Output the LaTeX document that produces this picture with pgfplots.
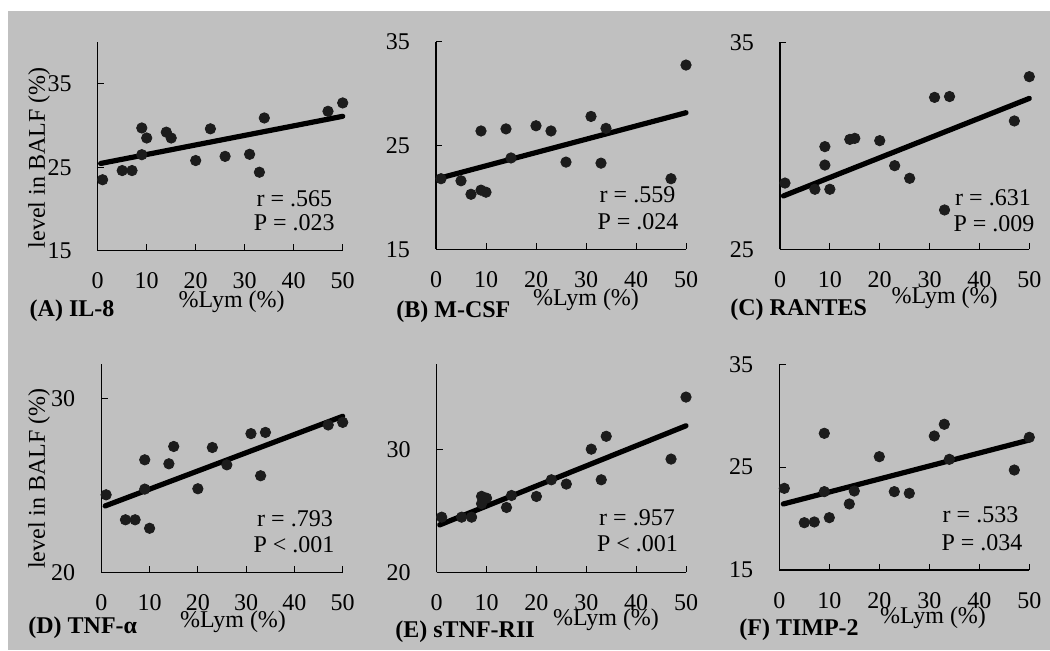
\documentclass[border=0pt]{standalone}
\usepackage{fontspec}
\setmainfont{Liberation Serif}
\usepackage{pgfplots}
\pgfplotsset{compat=1.18}
\definecolor{bg}{RGB}{192,192,192}
\definecolor{dot}{RGB}{28,28,28}
\pgfplotsset{
  panel/.style={
    scale only axis,
    axis x line=bottom, axis y line=left,
    axis line style={-, line width=0.6pt, black},
    xmin=0, xmax=50, xtick={0,10,...,50},
    tick align=inside,
    major tick length=3.2pt,
    tick style={black, line width=0.5pt},
    /pgf/number format/assume math mode=true,
    tick label style={font=\fontsize{12}{14}\selectfont, black},
    xticklabel style={yshift=-7.5pt},
    yticklabel style={xshift=-9.5pt},
    anchor=south west,
    clip=false,
  },
  dots/.style={only marks, mark=*, mark size=2.6pt, mark options={fill=dot, draw=dot}},
  fit/.style={no marks, line width=2.6pt, black, line cap=round},
}
\begin{document}
\begin{tikzpicture}[font=\fontsize{12}{14}\selectfont, x=1pt, y=1pt]
\path[use as bounding box] (0,0) rectangle (525,325);
\fill[white] (0,0) rectangle (525,325);
\fill[bg] (4,0) rectangle (525,319.5);

% (A) IL-8
\begin{axis}[panel, at={(48.85pt,199.65pt)}, width=122.5pt, height=104.35pt,
  ymin=15, ymax=40, ytick={15,25,35}]
\addplot[dots] coordinates {(1,23.5)(5,24.6)(7,24.6)(9,29.7)(9,26.5)(10,28.5)(14,29.2)(15,28.5)(20,25.8)(23,29.6)(26,26.3)(31,26.55)(33,24.4)(34,30.9)(47,31.7)(50,32.7)};
\addplot[fit] coordinates {(0.6,25.45)(50,31.1)};
\end{axis}

% (B) M-CSF
\begin{axis}[panel, at={(218pt,200.35pt)}, width=125pt, height=103.8pt,
  ymin=15, ymax=35, ytick={15,25,35}]
\addplot[dots] coordinates {(1,21.8)(5,21.6)(7,20.3)(9,20.7)(10,20.5)(9,26.4)(14,26.6)(15,23.8)(20,26.9)(23,26.4)(26,23.4)(31,27.8)(33,23.3)(34,26.65)(47,21.8)(50,32.75)};
\addplot[fit] coordinates {(0.6,21.84)(50,28.16)};
\end{axis}

% (C) RANTES
\begin{axis}[panel, at={(390pt,200.35pt)}, width=124.65pt, height=103.5pt,
  ymin=25, ymax=35, ytick={25,35}]
\addplot[dots] coordinates {(1,28.2)(7,27.9)(9,29.96)(9,29.07)(10,27.9)(14,30.31)(15,30.36)(20,30.25)(23,29.04)(26,28.43)(31,32.34)(34,32.38)(33,26.9)(47,31.2)(50,33.34)};
\addplot[fit] coordinates {(0.7,27.58)(50,32.29)};
\end{axis}

% (D) TNF-alpha
\begin{axis}[panel, at={(50.65pt,38.85pt)}, width=120.7pt, height=104pt,
  ymin=20, ymax=32, ytick={20,30}]
\addplot[dots] coordinates {(1,24.47)(5,23.03)(7,23.03)(9,26.49)(9,24.8)(10,22.54)(14,26.26)(15,27.26)(20,24.82)(23,27.2)(26,26.2)(31,28.0)(33,25.57)(34,28.07)(47,28.5)(50,28.65)};
\addplot[fit] coordinates {(0.8,23.83)(50,29.0)};
\end{axis}

% (E) sTNF-RII
\begin{axis}[panel, at={(218.35pt,38.85pt)}, width=124.65pt, height=104.15pt,
  ymin=20, ymax=37, ytick={20,30}]
\addplot[dots] coordinates {(1,24.5)(5,24.5)(7,24.5)(9,26.2)(9,25.6)(10,26.05)(14,25.29)(15,26.27)(20,26.19)(23,27.55)(26,27.2)(31,30.05)(33,27.55)(34,31.1)(47,29.24)(50,34.3)};
\addplot[fit] coordinates {(0.6,23.87)(50,31.96)};
\end{axis}

% (F) TIMP-2
\begin{axis}[panel, at={(389.65pt,40pt)}, width=125pt, height=102.85pt,
  ymin=15, ymax=35, ytick={15,25,35}]
\addplot[dots] coordinates {(1,22.94)(5,19.6)(7,19.67)(9,28.29)(9,22.62)(10,20.09)(14,21.42)(15,22.68)(20,26.02)(23,22.62)(26,22.46)(31,28.03)(33,29.17)(34,25.76)(47,24.72)(50,27.9)};
\addplot[fit] coordinates {(0.8,21.42)(50,27.64)};
\end{axis}

% y labels
\node[rotate=90] at (19.5,246.15) {level in BALF (\%)};
\node[rotate=90] at (19.5,85.75) {level in BALF (\%)};

% x labels
\node at (115.85,174.15) {\%Lym (\%)};
\node at (293,175) {\%Lym (\%)};
\node at (472.35,176) {\%Lym (\%)};
\node at (116.5,14.15) {\%Lym (\%)};
\node at (303,15) {\%Lym (\%)};
\node at (466.5,16) {\%Lym (\%)};

% panel labels
\node[anchor=west, inner sep=0pt, font=\fontsize{12}{14}\selectfont\bfseries] at (14.65,169.5) {(A) IL-8};
\node[anchor=west, inner sep=0pt, font=\fontsize{12}{14}\selectfont\bfseries] at (198,169.15) {(B) M-CSF};
\node[anchor=west, inner sep=0pt, font=\fontsize{12}{14}\selectfont\bfseries] at (365,170) {(C) RANTES};
\node[anchor=west, inner sep=0pt, font=\fontsize{12}{14}\selectfont\bfseries] at (14,11) {(D) TNF-α};
\node[anchor=west, inner sep=0pt, font=\fontsize{12}{14}\selectfont\bfseries] at (197.5,9) {(E) sTNF-RII};
\node[anchor=west, inner sep=0pt, font=\fontsize{12}{14}\selectfont\bfseries] at (369.5,10) {(F) TIMP-2};

% r / P annotations
\node at (147.15,225.85) {r = .565};
\node at (147.1,213.65) {P = .023};
\node at (318.75,227.5) {r = .559};
\node at (319,214.15) {P = .024};
\node at (496.5,226.35) {r = .631};
\node at (497,213.35) {P = .009};
\node at (147.5,65.85) {r = .793};
\node at (147,52.5) {P < .001};
\node at (318.5,66.35) {r = .957};
\node at (318.75,53) {P < .001};
\node at (490.25,67.5) {r = .533};
\node at (491,53.65) {P = .034};
\end{tikzpicture}
\end{document}
